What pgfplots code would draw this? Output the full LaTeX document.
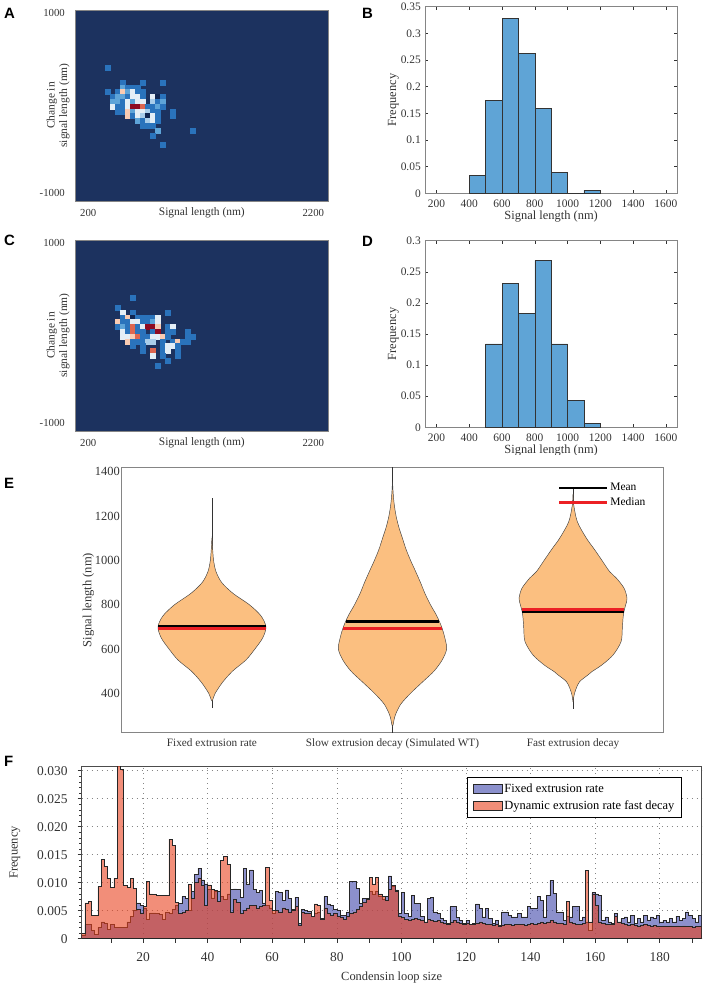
\documentclass[border=0pt]{standalone}
\usepackage{fontspec}
\setmainfont{Liberation Serif}
\newfontfamily\panelfont{Liberation Sans}
\usepackage{pgfplots}
\usepackage{pgfplotstable}
\pgfplotsset{compat=1.18}

% heatmap colours (index 0..7)
\definecolor{hmbg}{HTML}{1C325F}
\definecolor{hn}{HTML}{102550}
\definecolor{hb}{HTML}{2A73BC}
\definecolor{hm}{HTML}{5EA4D8}
\definecolor{hl}{HTML}{A9CDEA}
\definecolor{hw}{HTML}{E4EEF6}
\definecolor{hp}{HTML}{F9CBB2}
\definecolor{hr}{HTML}{DD6650}
\definecolor{hd}{HTML}{8E0B22}
% other colours
\definecolor{histblue}{HTML}{5FA4D6}
\definecolor{violinfill}{HTML}{FBBF80}
\definecolor{medred}{RGB}{236,32,36}
\definecolor{fixblue}{RGB}{63,70,170}
\definecolor{dynorange}{RGB}{233,67,31}
\definecolor{axgray}{HTML}{858585}
\definecolor{txt}{HTML}{333333}

% x, y (nm), colour index
\pgfplotstableread{
x y k
375 384 1
508 225 1
686 225 1
863 225 1
508 171 2
553 171 1
597 171 1
641 171 1
375 118 1
464 118 1
508 118 5
553 118 2
597 118 4
641 118 1
686 118 1
419 65 1
464 65 2
508 65 2
553 65 1
597 65 4
641 65 4
686 65 1
775 65 4
819 65 0
863 65 1
419 11 2
464 11 2
508 11 1
553 11 4
597 11 2
641 11 4
686 11 4
775 11 3
819 11 1
863 11 2
419 -42 4
464 -42 1
508 -42 1
553 -42 4
597 -42 7
641 -42 7
686 -42 6
730 -42 1
775 -42 1
819 -42 2
863 -42 1
464 -95 1
508 -95 1
553 -95 5
597 -95 2
641 -95 4
686 -95 4
730 -95 3
775 -95 1
819 -95 1
952 -95 1
553 -149 5
597 -149 1
641 -149 4
686 -149 3
730 -149 0
775 -149 4
819 -149 1
952 -149 1
641 -202 2
686 -202 1
730 -202 3
775 -202 4
819 -202 1
686 -255 1
730 -255 1
775 -255 1
819 -309 2
1130 -309 1
775 -362 1
863 -468 1
}\heatA

\pgfplotstableread{
x y k
597 384 1
464 278 1
508 225 4
597 225 1
908 225 1
508 171 1
553 171 5
597 171 0
641 171 1
686 171 1
730 171 1
775 171 1
819 171 4
464 118 5
508 118 1
553 118 1
597 118 4
641 118 4
686 118 1
730 118 1
775 118 2
819 118 4
464 65 1
508 65 2
553 65 1
597 65 6
641 65 1
686 65 4
730 65 7
775 65 7
819 65 5
908 65 1
952 65 4
508 11 4
553 11 1
597 11 6
641 11 1
686 11 1
775 11 1
819 11 7
908 11 1
952 11 1
1085 11 1
508 -42 4
553 -42 4
597 -42 5
641 -42 6
686 -42 1
730 -42 1
775 -42 4
819 -42 4
863 -42 5
908 -42 1
1085 -42 1
1130 -42 1
553 -95 5
597 -95 1
641 -95 1
686 -95 1
730 -95 3
775 -95 3
863 -95 1
952 -95 1
997 -95 5
1041 -95 1
1085 -95 1
597 -149 1
686 -149 1
863 -149 1
908 -149 4
952 -149 4
997 -149 1
686 -202 1
775 -202 6
863 -202 1
908 -202 4
997 -202 1
775 -255 4
863 -255 1
997 -255 1
908 -309 1
819 -362 1
}\heatC

% condensin loop size histograms (bin start, fixed rate, dynamic fast decay)
\pgfplotstableread{
u fix dyn
1 0.0006 0.0010
2 0.0025 0.0064
3 0.0025 0.0066
4 0.0015 0.0042
5 0.0008 0.0042
6 0.0020 0.0093
7 0.0030 0.0142
8 0.0028 0.0129
9 0.0016 0.0108
10 0.0025 0.0092
11 0.0020 0.0108
12 0.0020 0.0320
13 0.0020 0.0302
14 0.0020 0.0095
15 0.0030 0.0092
16 0.0040 0.0108
17 0.0050 0.0090
18 0.0064 0.0052
19 0.0060 0.0046
20 0.0055 0.0058
21 0.0035 0.0102
22 0.0046 0.0080
23 0.0046 0.0079
24 0.0045 0.0078
25 0.0043 0.0077
26 0.0035 0.0077
27 0.0047 0.0077
28 0.0045 0.0178
29 0.0052 0.0166
30 0.0060 0.0065
31 0.0063 0.0045
32 0.0075 0.0048
33 0.0072 0.0050
34 0.0050 0.0097
35 0.0085 0.0072
36 0.0115 0.0100
37 0.0126 0.0108
38 0.0105 0.0095
39 0.0098 0.0060
40 0.0088 0.0096
41 0.0073 0.0088
42 0.0085 0.0086
43 0.0085 0.0066
44 0.0076 0.0140
45 0.0070 0.0147
46 0.0080 0.0133
47 0.0088 0.0048
48 0.0089 0.0070
49 0.0088 0.0065
50 0.0074 0.0045
51 0.0125 0.0050
52 0.0098 0.0055
53 0.0123 0.0060
54 0.0088 0.0060
55 0.0083 0.0055
56 0.0086 0.0058
57 0.0064 0.0060
58 0.0060 0.0128
59 0.0055 0.0068
60 0.0045 0.0050
61 0.0084 0.0050
62 0.0082 0.0048
63 0.0068 0.0055
64 0.0087 0.0052
65 0.0072 0.0048
66 0.0052 0.0050
67 0.0074 0.0058
68 0.0027 0.0024
69 0.0052 0.0047
70 0.0050 0.0045
71 0.0049 0.0045
72 0.0040 0.0040
73 0.0045 0.0062
74 0.0048 0.0060
75 0.0036 0.0034
76 0.0075 0.0055
77 0.0062 0.0046
78 0.0060 0.0042
79 0.0053 0.0045
80 0.0050 0.0040
81 0.0042 0.0038
82 0.0042 0.0035
83 0.0048 0.0040
84 0.0102 0.0045
85 0.0102 0.0048
86 0.0090 0.0052
87 0.0063 0.0058
88 0.0072 0.0065
89 0.0072 0.0070
90 0.0085 0.0110
91 0.0080 0.0098
92 0.0085 0.0110
93 0.0075 0.0080
94 0.0070 0.0075
95 0.0076 0.0068
96 0.0112 0.0088
97 0.0093 0.0095
98 0.0087 0.0085
99 0.0045 0.0040
100 0.0082 0.0038
101 0.0045 0.0035
102 0.0040 0.0033
103 0.0078 0.0035
104 0.0063 0.0036
105 0.0063 0.0035
106 0.0040 0.0032
107 0.0030 0.0030
108 0.0072 0.0035
109 0.0074 0.0033
110 0.0048 0.0031
111 0.0045 0.0032
112 0.0036 0.0030
113 0.0032 0.0028
114 0.0027 0.0026
115 0.0057 0.0030
116 0.0058 0.0032
117 0.0038 0.0030
118 0.0032 0.0028
119 0.0027 0.0026
120 0.0033 0.0027
121 0.0026 0.0025
122 0.0028 0.0026
123 0.0062 0.0028
124 0.0054 0.0030
125 0.0039 0.0028
126 0.0054 0.0026
127 0.0036 0.0025
128 0.0027 0.0024
129 0.0033 0.0025
130 0.0024 0.0023
131 0.0048 0.0024
132 0.0048 0.0026
133 0.0042 0.0025
134 0.0039 0.0024
135 0.0039 0.0025
136 0.0045 0.0026
137 0.0039 0.0025
138 0.0039 0.0024
139 0.0057 0.0026
140 0.0054 0.0028
141 0.0054 0.0026
142 0.0075 0.0028
143 0.0068 0.0030
144 0.0039 0.0027
145 0.0078 0.0030
146 0.0104 0.0032
147 0.0081 0.0030
148 0.0048 0.0028
149 0.0048 0.0027
150 0.0033 0.0026
151 0.0040 0.0066
152 0.0039 0.0030
153 0.0057 0.0028
154 0.0057 0.0026
155 0.0033 0.0025
156 0.0039 0.0027
157 0.0030 0.0122
158 0.0015 0.0030
159 0.0082 0.0080
160 0.0080 0.0060
161 0.0078 0.0030
162 0.0033 0.0028
163 0.0039 0.0026
164 0.0030 0.0025
165 0.0027 0.0026
166 0.0045 0.0040
167 0.0030 0.0030
168 0.0036 0.0027
169 0.0039 0.0025
170 0.0030 0.0024
171 0.0042 0.0025
172 0.0027 0.0024
173 0.0036 0.0023
174 0.0030 0.0024
175 0.0042 0.0025
176 0.0033 0.0024
177 0.0039 0.0023
178 0.0036 0.0024
179 0.0042 0.0023
180 0.0030 0.0022
181 0.0033 0.0023
182 0.0030 0.0022
183 0.0036 0.0023
184 0.0030 0.0022
185 0.0040 0.0023
186 0.0033 0.0022
187 0.0036 0.0023
188 0.0048 0.0022
189 0.0042 0.0022
190 0.0036 0.0021
191 0.0030 0.0022
192 0.0042 0.0022
193 0.0042 0.0022
}\loops

\pgfplotsset{
  mybase/.style={
    scale only axis, enlargelimits=false,
    /pgf/number format/assume math mode=true,
    /pgf/number format/1000 sep={},
    scaled ticks=false,
    axis line style={axgray, line width=0.6bp},
    every tick/.style={txt, line width=0.5bp},
    tick label style={text=txt, inner sep=0pt},
    label style={text=txt, inner sep=0pt},
  },
  myheat/.style={mybase,
    width=252.3bp, height=191bp,
    xmin=88, xmax=2331, ymin=-1092, ymax=1030,
    xtick={200,2200}, ytick={-1000,1000},
    major tick length=0pt,
    axis background/.style={fill=hmbg},
    colormap={cellmap}{color=(hn) color=(hb) color=(hm) color=(hl) color=(hw) color=(hp) color=(hr) color=(hd)},
    colormap access=piecewise constant,
    point meta min=0, point meta max=7,
    tick label style={font=\fontsize{10.8}{12}\selectfont},
    label style={font=\fontsize{11.5}{12.5}\selectfont},
    yticklabel style={anchor=east, xshift=-10.7bp},
    xticklabel style={anchor=center, yshift=-11.7bp},
    xlabel={Signal length (nm)},
    xlabel style={at={(axis description cs:0.5,0)}, anchor=center, yshift=-11.7bp},
    ylabel={Change in\\signal length (nm)},
    ylabel style={at={(axis description cs:-0.07,0.5)}, anchor=center, align=center},
  },
  myhist/.style={mybase,
    width=252.3bp, height=186.6bp,
    xmin=130, xmax=1670, ymin=0,
    xtick={200,400,...,1600},
    tick align=inside, major tick length=3bp,
    /pgf/number format/fixed,
    tick label style={font=\fontsize{11.5}{12}\selectfont},
    label style={font=\fontsize{12.5}{14}\selectfont},
    yticklabel style={anchor=east, xshift=-4bp},
    xticklabel style={anchor=center, yshift=-10bp},
    xlabel={Signal length (nm)}, ylabel={Frequency},
    xlabel style={at={(axis description cs:0.5,0)}, anchor=center, yshift=-23.7bp},
    ylabel style={at={(axis description cs:-0.1256,0.5)}, anchor=center},
  },
  myvio/.style={fill=violinfill, draw=black!75, line width=0.45bp, smooth, tension=0.5, forget plot},
  mytail/.style={draw=black!80, line width=0.5bp, forget plot},
}

\newcommand{\panel}[2]{\node[anchor=base west, inner sep=0pt, font=\panelfont\bfseries\fontsize{15}{15}\selectfont] at #1 {#2};}

\begin{document}
\begin{tikzpicture}
\path[use as bounding box] (0,0) rectangle (705bp,-987bp);

% ---------------- A
\begin{axis}[myheat, at={(75.7bp,-10bp)}, anchor=north west]
  \addplot[scatter, only marks, mark=square*, mark size=2.5bp, point meta=explicit,
    scatter/use mapped color={draw=mapped color, fill=mapped color}]
    table[x=x, y=y, meta=k] {\heatA};
\end{axis}

% ---------------- B
\begin{axis}[myhist, at={(425bp,-6.7bp)}, anchor=north west, ymax=0.35,
  ytick={0,0.05,...,0.35}]
  \addplot[ybar interval, fill=histblue, draw=black!80, line width=0.5bp]
    coordinates {(400,0.033) (500,0.175) (600,0.328) (700,0.262)
    (800,0.159) (900,0.039) (1000,0) (1100,0.006) (1200,0)};
\end{axis}

% ---------------- C
\begin{axis}[myheat, at={(75.7bp,-240bp)}, anchor=north west]
  \addplot[scatter, only marks, mark=square*, mark size=2.5bp, point meta=explicit,
    scatter/use mapped color={draw=mapped color, fill=mapped color}]
    table[x=x, y=y, meta=k] {\heatC};
\end{axis}

% ---------------- D
\begin{axis}[myhist, at={(425bp,-240.7bp)}, anchor=north west, ymax=0.3,
  ytick={0,0.05,...,0.3}]
  \addplot[ybar interval, fill=histblue, draw=black!80, line width=0.5bp]
    coordinates {(500,0.134) (600,0.232) (700,0.183) (800,0.268)
    (900,0.134) (1000,0.043) (1100,0.006) (1200,0)};
\end{axis}
\fill[white] (360bp,-455bp) rectangle (705bp,-466bp);

% ---------------- E
\begin{axis}[mybase, at={(121.7bp,-467.3bp)}, anchor=north west,
  width=541.6bp, height=265.4bp,
  xmin=0.5, xmax=3.5, ymin=222, ymax=1420,
  xtick={1,2,3},
  xticklabels={Fixed extrusion rate, Slow extrusion decay (Simulated WT), Fast extrusion decay},
  ytick={400,600,...,1400},
  major tick length=0pt,
  xticklabel style={font=\fontsize{11.3}{12}\selectfont, anchor=base, yshift=-13.5bp},
  yticklabel style={font=\fontsize{12.5}{13}\selectfont, anchor=east, xshift=-1.7bp},
  ylabel={Signal length (nm)},
  ylabel style={font=\fontsize{12.6}{14}\selectfont, at={(axis description cs:-0.0617,0.5)}, anchor=center},
  legend style={at={(axis description cs:0.805,0.894)}, anchor=west, draw=none, fill=none,
    font=\fontsize{11.5}{12}\selectfont, inner sep=0pt, row sep=2.5bp,
    nodes={inner sep=1.5bp}},
  legend cell align=left,
  legend image code/.code={\draw[#1] (0bp,0bp) -- (48bp,0bp);},
  ]
  % violin 1
  \addplot[mytail] coordinates {(1,333) (1,1280)};
  \addplot[myvio] coordinates {(1,365) (1.004,370) (1.018,400) (1.059,450) (1.114,500)
    (1.188,550) (1.238,600) (1.281,650) (1.299,700) (1.271,750) (1.207,800) (1.118,850)
    (1.054,900) (1.022,950) (1.009,1000) (1.004,1050) (1,1100)
    (0.996,1050) (0.991,1000) (0.978,950) (0.946,900) (0.882,850) (0.793,800) (0.729,750)
    (0.701,700) (0.719,650) (0.762,600) (0.812,550) (0.886,500) (0.941,450) (0.982,400)
    (0.996,370) (1,365)};
  % violin 2
  \addplot[mytail] coordinates {(2,222) (2,1420)};
  \addplot[myvio] coordinates {(2,250) (2.004,260) (2.015,300) (2.045,350) (2.100,400)
    (2.165,450) (2.230,500) (2.275,550) (2.300,600) (2.290,650) (2.272,700) (2.245,750)
    (2.210,800) (2.180,850) (2.155,900) (2.128,950) (2.100,1000) (2.075,1050) (2.055,1100)
    (2.035,1150) (2.020,1200) (2.010,1250) (2.004,1300) (2,1350)
    (1.996,1300) (1.990,1250) (1.980,1200) (1.965,1150) (1.945,1100) (1.925,1050)
    (1.900,1000) (1.872,950) (1.845,900) (1.820,850) (1.790,800) (1.755,750) (1.728,700)
    (1.710,650) (1.700,600) (1.725,550) (1.770,500) (1.835,450) (1.900,400) (1.955,350)
    (1.985,300) (1.996,260) (2,250)};
  % violin 3
  \addplot[mytail] coordinates {(3,330) (3,1330)};
  \addplot[myvio] coordinates {(3,360) (3.006,392) (3.018,423) (3.037,453) (3.083,483)
    (3.105,498) (3.160,528) (3.222,573) (3.266,633) (3.273,694) (3.277,739) (3.282,769)
    (3.292,800) (3.299,829) (3.283,874) (3.240,920) (3.203,949) (3.160,1000) (3.118,1050)
    (3.074,1100) (3.024,1174) (3.004,1250) (3,1300)
    (2.996,1250) (2.976,1174) (2.926,1100) (2.882,1050) (2.840,1000) (2.797,949)
    (2.760,920) (2.717,874) (2.701,829) (2.708,800) (2.718,769) (2.723,739) (2.727,694)
    (2.734,633) (2.778,573) (2.840,528) (2.895,498) (2.917,483) (2.963,453) (2.982,423)
    (2.994,392) (3,360)};
  % means and medians
  \addplot[black, line width=2.8bp] coordinates {(0.702,701) (1.298,701)};
  \addlegendentry{Mean}
  \addplot[medred, line width=3bp] coordinates {(0.702,692) (1.298,692)};
  \addlegendentry{Median}
  \addplot[black, line width=2.8bp, forget plot] coordinates {(1.743,723) (2.257,723)};
  \addplot[medred, line width=3bp, forget plot] coordinates {(1.726,694) (2.274,694)};
  \addplot[black, line width=2.8bp, forget plot] coordinates {(2.718,769) (3.282,769)};
  \addplot[medred, line width=3bp, forget plot] coordinates {(2.716,776) (3.284,776)};
\end{axis}

% ---------------- F
\begin{axis}[mybase, at={(81.7bp,-766bp)}, anchor=north west,
  width=620bp, height=172.7bp,
  xmin=1, xmax=193, ymin=0, ymax=0.03084,
  axis line style={black!70, line width=0.7bp},
  xtick={20,40,...,180},
  extra x ticks={10,30,...,190}, extra x tick labels={},
  extra x tick style={grid=none},
  ytick={0,0.005,0.01,0.015,0.02,0.025,0.03},
  yticklabels={0,0.005,0.010,0.015,0.020,0.025,0.030},
  minor y tick num=4,
  tick align=outside, xtick pos=left, ytick pos=left,
  major tick length=4bp, minor tick length=2.5bp,
  grid=major,
  major grid style={axgray, dash pattern=on 0.8bp off 4.2bp, line width=0.6bp},
  tick label style={font=\fontsize{13.5}{14}\selectfont},
  label style={font=\fontsize{12.5}{13}\selectfont},
  xticklabel style={anchor=center, yshift=-14.6bp},
  yticklabel style={anchor=east, xshift=-10bp},
  xlabel={Condensin loop size},
  xlabel style={at={(axis description cs:0.5,0)}, anchor=center, yshift=-38.6bp},
  ylabel={Frequency},
  ylabel style={at={(axis description cs:-0.1076,0.5)}, anchor=center},
  legend style={at={(axis description cs:0.622,0.935)}, anchor=north west,
    draw=black, line width=0.8bp, fill=white,
    font=\fontsize{12.5}{14}\selectfont, inner xsep=5bp, inner ysep=4bp, row sep=3bp},
  legend cell align=left,
  legend image code/.code={\draw[#1] (0bp,-4.5bp) rectangle (29bp,4.5bp);},
  ]
  \addplot[const plot, fill=fixblue, fill opacity=0.6, draw=black!85, line width=0.6bp]
    table[x=u, y=fix] {\loops} \closedcycle;
  \addlegendentry{Fixed extrusion rate}
  \addplot[const plot, fill=dynorange, fill opacity=0.6, draw=black!85, line width=0.6bp]
    table[x=u, y=dyn] {\loops} \closedcycle;
  \addlegendentry{Dynamic extrusion rate fast decay}
\end{axis}

% panel letters
\panel{(4bp,-18.3bp)}{A}
\panel{(362bp,-18.3bp)}{B}
\panel{(4bp,-245bp)}{C}
\panel{(362bp,-246.7bp)}{D}
\panel{(4bp,-488bp)}{E}
\panel{(4bp,-766bp)}{F}
\end{tikzpicture}
\end{document}
